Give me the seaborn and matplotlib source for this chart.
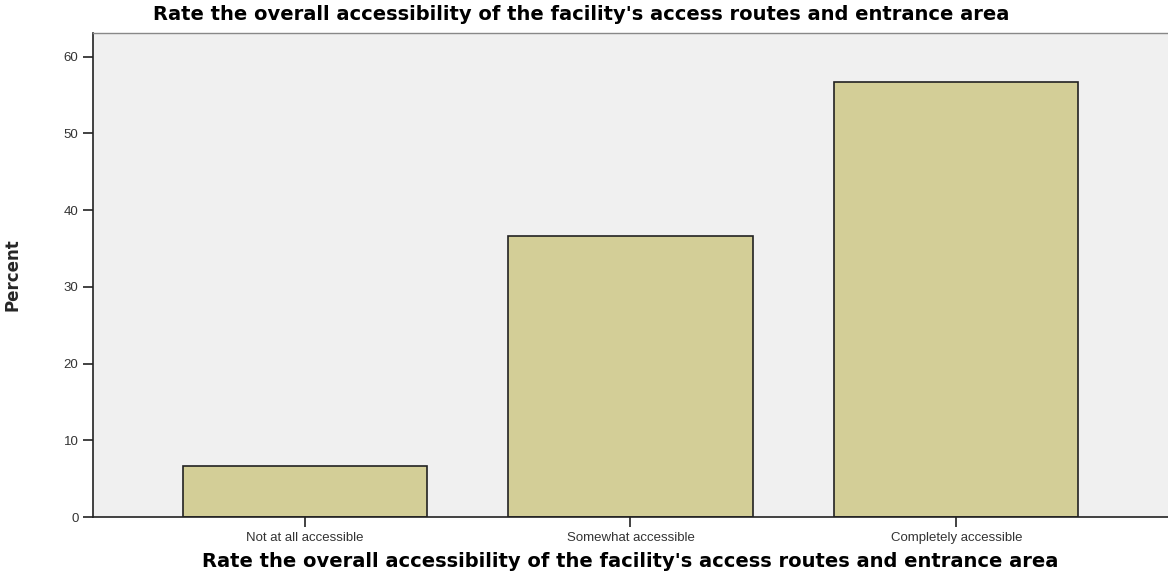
import matplotlib
matplotlib.use("Agg")
import matplotlib.pyplot as plt
import seaborn as sns
import pandas as pd

# Datos del gráfico
categories = ["Not at all accessible", "Somewhat accessible", "Completely accessible"]
percent = [6.67, 36.67, 56.67]
title = "Rate the overall accessibility of the facility's access routes and entrance area"

df = pd.DataFrame({"Category": categories, "Percent": percent})

sns.set_style("white")

fig = plt.figure(figsize=(11.68, 5.73), dpi=100)
ax = fig.add_axes([0.0796, 0.0977, 0.9204, 0.8447])
ax.set_facecolor("#f0f0f0")

sns.barplot(
    data=df,
    x="Category",
    y="Percent",
    color="#d3ce97",
    saturation=1,
    edgecolor="#222222",
    linewidth=1.2,
    width=0.75,
    ax=ax,
)

ax.set_xlim(-0.65, 2.65)
ax.set_ylim(0, 63.1)
ax.set_yticks([0, 10, 20, 30, 40, 50, 60])

for s in ["left", "bottom"]:
    ax.spines[s].set_color("#222222")
    ax.spines[s].set_linewidth(1.2)
ax.spines["top"].set_color("#888888")
ax.spines["top"].set_linewidth(1.0)
ax.spines["right"].set_visible(False)

ax.tick_params(axis="both", direction="out", length=7, width=1.2, color="#222222",
               labelsize=9.5, labelcolor="#333333", left=True, bottom=True)
for lab in ax.get_xticklabels() + ax.get_yticklabels():
    lab.set_family("Liberation Sans")

ax.set_xlabel(title, fontsize=14, fontweight="bold", family="DejaVu Sans", labelpad=6,
              color="black")
ax.set_ylabel("Percent", fontsize=12, fontweight="bold",
              family=["Liberation Sans Narrow", "DejaVu Sans Condensed", "DejaVu Sans"], labelpad=30)

fig.text(0.498, 0.975, title, ha="center", va="center", fontsize=14, fontweight="bold",
         family="DejaVu Sans", color="black")

fig.savefig("out.png", dpi=100)
